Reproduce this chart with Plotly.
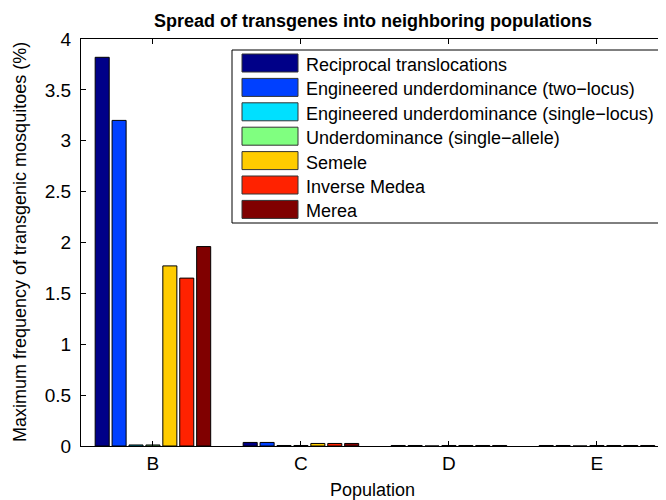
import plotly.graph_objects as go

categories = ["B", "C", "D", "E"]
series_names = [
    "Reciprocal translocations",
    "Engineered underdominance (two\u2212locus)",
    "Engineered underdominance (single\u2212locus)",
    "Underdominance (single\u2212allele)",
    "Semele",
    "Inverse Medea",
    "Merea",
]
reciprocal = [3.82, 0.035, 0.005, 0.005]
eng_two = [3.20, 0.035, 0.005, 0.005]
eng_single = [0.01, 0.005, 0.0, 0.0]
under_single = [0.01, 0.005, 0.005, 0.005]
semele = [1.77, 0.025, 0.005, 0.005]
inverse_medea = [1.65, 0.025, 0.005, 0.005]
merea = [1.96, 0.025, 0.005, 0.005]
series_values = [reciprocal, eng_two, eng_single, under_single, semele, inverse_medea, merea]
colors = ["#000088", "#0040FF", "#00E0FF", "#80FF80", "#FFCC00", "#FF2200", "#800000"]
y_ticks = [0, 0.5, 1, 1.5, 2, 2.5, 3, 3.5, 4]

# page body has an 8px margin; work in window pixels and shift
OFF = 8
WIN_W, WIN_H = 666, 500
W, H = WIN_W - OFF, WIN_H - OFF
PLOT_L, PLOT_R, PLOT_T, PLOT_B = 81, 664, 39, 446  # window pixels
L, R, T, B = PLOT_L - OFF, WIN_W - PLOT_R, PLOT_T - OFF, WIN_H - PLOT_B
FONT = "Liberation Sans, Arial, Helvetica, sans-serif"
FS = 18
FS_LEG = 18

fig = go.Figure()
for name, vals, col in zip(series_names, series_values, colors):
    fig.add_trace(go.Bar(x=categories, y=vals, name=name,
                         marker=dict(color=col, line=dict(color="black", width=1)),
                         showlegend=False))

pw, ph = PLOT_R - PLOT_L, PLOT_B - PLOT_T
def px(x):
    return (x - PLOT_L) / pw
def py(y):
    return (PLOT_B - y) / ph

shapes = [dict(type="rect", xref="paper", yref="paper",
               x0=px(232), x1=px(661), y0=py(50), y1=py(223),
               line=dict(color="black", width=1), fillcolor="white", layer="above")]
annotations = []
for i, (name, col) in enumerate(zip(series_names, colors)):
    cy = 63 + i * 24.4
    shapes.append(dict(type="rect", xref="paper", yref="paper",
                       x0=px(242), x1=px(298), y0=py(cy - 9), y1=py(cy + 9),
                       line=dict(color="#333333", width=1), fillcolor=col, layer="above"))
    annotations.append(dict(xref="paper", yref="paper", x=px(304), y=py(cy + 2),
                            text=name, showarrow=False, xanchor="left", yanchor="middle",
                            font=dict(family=FONT, size=FS_LEG, color="black")))

# axis titles as annotations for exact placement
annotations.append(dict(xref="paper", yref="paper", x=px((PLOT_L + PLOT_R) / 2), y=py(490),
                        text="Population", showarrow=False, xanchor="center", yanchor="middle",
                        font=dict(family=FONT, size=FS, color="black")))
annotations.append(dict(xref="paper", yref="paper", x=px(20), y=py(242),
                        text="Maximum frequency of transgenic mosquitoes (%)", showarrow=False,
                        textangle=-90, xanchor="center", yanchor="middle",
                        font=dict(family=FONT, size=FS, color="black")))

fig.update_layout(
    width=W, height=H,
    margin=dict(l=L, r=R, t=T, b=B, autoexpand=False),
    paper_bgcolor="white", plot_bgcolor="white",
    barmode="group", bargap=0.2, bargroupgap=0.17,
    title=dict(text="<b>Spread of transgenes into neighboring populations</b>",
               x=(373 - OFF) / W, xanchor="center", y=1 - (21 - OFF) / H, yanchor="middle",
               font=dict(family=FONT, size=FS, color="black")),
    font=dict(family=FONT, size=FS, color="black"),
    shapes=shapes, annotations=annotations,
)
fig.update_xaxes(range=[-0.486, 3.453], showline=True, linecolor="black", linewidth=1,
                 mirror="ticks", ticks="inside", ticklen=5, tickcolor="black",
                 showgrid=False, zeroline=False, tickfont=dict(size=19))
fig.update_yaxes(range=[0, 4], tickvals=y_ticks, showline=True, linecolor="black", linewidth=1,
                 mirror="ticks", ticks="inside", ticklen=5, tickcolor="black",
                 showgrid=False, zeroline=False, tickfont=dict(size=19), ticklabelstandoff=5)

fig.write_html("out.html")
